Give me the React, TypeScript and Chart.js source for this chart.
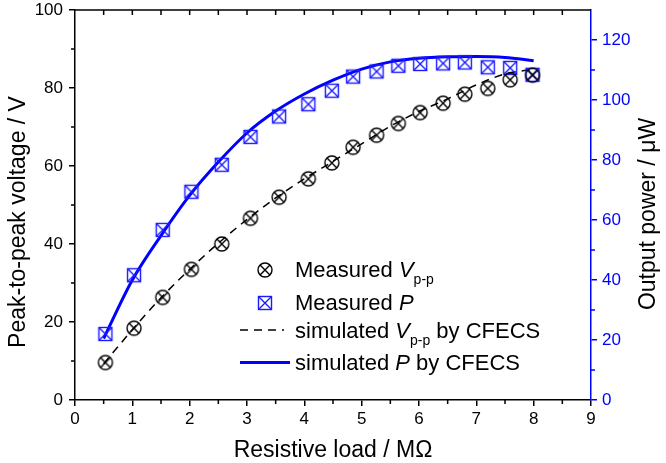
import React, { useEffect, useRef } from 'react';
import { Chart, registerables } from 'chart.js';
Chart.register(...registerables);

// ---- data ----
const measuredLoad = [0.53, 1.03, 1.53, 2.03, 2.56, 3.06, 3.56, 4.07, 4.48, 4.85, 5.26, 5.64, 6.02, 6.42, 6.8, 7.2, 7.59, 7.98];
const measuredVpp = [9.6, 18.4, 26.3, 33.5, 40.0, 46.6, 52.0, 56.7, 60.8, 64.8, 67.9, 70.9, 73.7, 76.1, 78.4, 79.9, 82.1, 83.3];
const measuredP = [22.0, 41.6, 56.7, 69.4, 78.4, 87.7, 94.5, 98.6, 103.1, 107.8, 109.5, 111.4, 112.0, 112.2, 112.5, 110.9, 110.7, 108.4];
const simLoad = [0.5, 1, 1.5, 2, 2.5, 3, 3.5, 4, 4.5, 5, 5.5, 6, 6.5, 7, 7.5, 8];
const simVpp = [9.3, 18.0, 26.2, 33.5, 40.2, 46.3, 51.8, 56.7, 61.2, 65.7, 70.2, 74.0, 77.2, 80.8, 83.6, 84.8];
const simP = [20.5, 40.0, 54.8, 68.2, 79.3, 89.0, 96.3, 102.0, 106.6, 110.3, 112.7, 113.9, 114.4, 114.5, 114.2, 113.1];
const xTicks = [0, 1, 2, 3, 4, 5, 6, 7, 8, 9];
const yTicks = [0, 20, 40, 60, 80, 100];
const y1Ticks = [0, 20, 40, 60, 80, 100, 120];

const FONT = "Arial, 'Liberation Sans', sans-serif";
const BLUE = '#0000ff';
const BLACK = '#000000';

function makeCircleX(color: string) {
  const c = document.createElement('canvas');
  c.width = 20; c.height = 20;
  const g = c.getContext('2d')!;
  g.strokeStyle = color; g.lineWidth = 1.4;
  g.beginPath(); g.arc(10, 10, 7, 0, Math.PI * 2); g.stroke();
  const d = 7 * Math.SQRT1_2;
  g.beginPath();
  g.moveTo(10 - d, 10 - d); g.lineTo(10 + d, 10 + d);
  g.moveTo(10 + d, 10 - d); g.lineTo(10 - d, 10 + d);
  g.stroke();
  return c;
}
function makeSquareX(color: string) {
  const c = document.createElement('canvas');
  c.width = 20; c.height = 20;
  const g = c.getContext('2d')!;
  g.strokeStyle = color; g.lineWidth = 1.4;
  g.strokeRect(3.5, 3.5, 13, 13);
  g.beginPath();
  g.moveTo(3.5, 3.5); g.lineTo(16.5, 16.5);
  g.moveTo(16.5, 3.5); g.lineTo(3.5, 16.5);
  g.stroke();
  return c;
}

type Part = { t: string; it?: boolean; sub?: boolean };
function drawRich(ctx: CanvasRenderingContext2D, x: number, y: number, parts: Part[], size: number) {
  let cx = x;
  for (const p of parts) {
    const s = p.sub ? Math.round(size * 0.62) : size;
    ctx.font = `${p.it ? 'italic ' : ''}${s}px ${FONT}`;
    ctx.fillText(p.t, cx, p.sub ? y + 7 : y);
    cx += ctx.measureText(p.t).width;
  }
}

export default function App() {
  const ref = useRef<HTMLCanvasElement>(null);
  useEffect(() => {
    const circ = makeCircleX(BLACK);
    const sq = makeSquareX('#1a1aff');

    const decor = {
      id: 'decor',
      afterDraw(chart: any) {
        const { ctx, chartArea: ca, scales } = chart;
        const sx = scales.x, sy = scales.y, sy1 = scales.y1;
        ctx.save();
        ctx.lineWidth = 1.5;
        // top border with inward ticks
        ctx.strokeStyle = BLACK;
        ctx.beginPath();
        ctx.moveTo(ca.left, ca.top); ctx.lineTo(ca.right, ca.top);
        for (let v = 0.5; v < 9; v += 0.5) {
          const px = sx.getPixelForValue(v);
          ctx.moveTo(px, ca.top); ctx.lineTo(px, ca.top + 5);
        }
        // bottom minor ticks
        for (let v = 0.5; v < 9; v += 1) {
          const px = sx.getPixelForValue(v);
          ctx.moveTo(px, ca.bottom); ctx.lineTo(px, ca.bottom + 4);
        }
        // left minor ticks
        for (let v = 10; v < 100; v += 20) {
          const py = sy.getPixelForValue(v);
          ctx.moveTo(ca.left, py); ctx.lineTo(ca.left - 4, py);
        }
        ctx.stroke();
        // right minor ticks
        ctx.strokeStyle = BLUE;
        ctx.beginPath();
        for (let v = 10; v < 130; v += 20) {
          const py = sy1.getPixelForValue(v);
          ctx.moveTo(ca.right, py); ctx.lineTo(ca.right + 4, py);
        }
        ctx.stroke();

        // axis titles
        ctx.fillStyle = BLACK;
        ctx.font = `23px ${FONT}`;
        ctx.textAlign = 'center';
        ctx.textBaseline = 'alphabetic';
        ctx.fillText('Resistive load / M\u03A9', (ca.left + ca.right) / 2, 457);
        ctx.save();
        ctx.translate(25, 222);
        ctx.rotate(-Math.PI / 2);
        ctx.fillText('Peak-to-peak voltage / V', 0, 0);
        ctx.restore();
        ctx.save();
        ctx.translate(655, 214);
        ctx.rotate(-Math.PI / 2);
        ctx.fillText('Output power / \u03BCW', 0, 0);
        ctx.restore();

        // legend
        ctx.textAlign = 'left';
        const tx = 295;
        ctx.drawImage(circ, 265 - 10, 270 - 10);
        ctx.drawImage(sq, 265 - 10, 303 - 10);
        ctx.strokeStyle = BLACK; ctx.lineWidth = 1.5; ctx.setLineDash([8, 6]);
        ctx.beginPath(); ctx.moveTo(240, 330); ctx.lineTo(284, 330); ctx.stroke();
        ctx.setLineDash([]);
        ctx.strokeStyle = BLUE; ctx.lineWidth = 3;
        ctx.beginPath(); ctx.moveTo(240, 362.5); ctx.lineTo(290, 362.5); ctx.stroke();
        ctx.fillStyle = BLACK;
        drawRich(ctx, tx, 277, [{ t: 'Measured ' }, { t: 'V', it: true }, { t: 'p-p', sub: true }], 22);
        drawRich(ctx, tx, 310, [{ t: 'Measured ' }, { t: 'P', it: true }], 22);
        drawRich(ctx, tx, 338, [{ t: 'simulated ' }, { t: 'V', it: true }, { t: 'p-p', sub: true }, { t: ' by CFECS' }], 22);
        drawRich(ctx, tx, 370, [{ t: 'simulated ' }, { t: 'P', it: true }, { t: ' by CFECS' }], 22);
        ctx.restore();
      },
    };

    const chart = new Chart(ref.current!, {
      type: 'line',
      data: {
        datasets: [
          {
            label: 'Measured Vp-p',
            data: measuredLoad.map((x, i) => ({ x, y: measuredVpp[i] })),
            yAxisID: 'y',
            showLine: false,
            pointStyle: circ as any,
            pointRadius: 8,
            borderColor: BLACK,
            backgroundColor: BLACK,
          },
          {
            label: 'Measured P',
            data: measuredLoad.map((x, i) => ({ x, y: measuredP[i] })),
            yAxisID: 'y1',
            showLine: false,
            pointStyle: sq as any,
            pointRadius: 8,
            borderColor: BLUE,
            backgroundColor: BLUE,
          },
          {
            label: 'simulated Vp-p by CFECS',
            data: simLoad.map((x, i) => ({ x, y: simVpp[i] })),
            yAxisID: 'y',
            borderColor: BLACK,
            borderWidth: 1.5,
            borderDash: [8, 6],
            pointRadius: 0,
            cubicInterpolationMode: 'monotone',
            fill: false,
          },
          {
            label: 'simulated P by CFECS',
            data: simLoad.map((x, i) => ({ x, y: simP[i] })),
            yAxisID: 'y1',
            borderColor: BLUE,
            borderWidth: 3,
            pointRadius: 0,
            cubicInterpolationMode: 'monotone',
            fill: false,
          },
        ],
      },
      options: {
        responsive: false,
        animation: false,
        layout: { padding: { top: 10, left: 0, right: 0, bottom: 0 } },
        plugins: { legend: { display: false }, tooltip: { enabled: false } },
        scales: {
          x: {
            type: 'linear',
            min: 0, max: 9,
            afterBuildTicks: (s: any) => { s.ticks = xTicks.map((v) => ({ value: v })); },
            afterFit: (s: any) => { s.height = 63; s.paddingLeft = 0; s.paddingRight = 0; },
            ticks: { color: BLACK, font: { size: 17, family: FONT }, padding: 3, maxRotation: 0, autoSkip: false },
            grid: { display: true, drawOnChartArea: false, drawTicks: true, tickLength: 6, color: BLACK, lineWidth: 1.5 },
            border: { display: true, color: BLACK, width: 1.5 },
          },
          y: {
            type: 'linear', position: 'left',
            min: 0, max: 100,
            afterBuildTicks: (s: any) => { s.ticks = yTicks.map((v) => ({ value: v })); },
            afterFit: (s: any) => { s.width = 75; s.paddingTop = 0; s.paddingBottom = 0; },
            ticks: { color: BLACK, font: { size: 17, family: FONT }, padding: 6 },
            grid: { display: true, drawOnChartArea: false, drawTicks: true, tickLength: 6, color: BLACK, lineWidth: 1.5 },
            border: { display: true, color: BLACK, width: 1.5 },
          },
          y1: {
            type: 'linear', position: 'right',
            min: 0, max: 130,
            afterBuildTicks: (s: any) => { s.ticks = y1Ticks.map((v) => ({ value: v })); },
            afterFit: (s: any) => { s.width = 75; s.paddingTop = 0; s.paddingBottom = 0; },
            ticks: { color: BLUE, font: { size: 17, family: FONT }, padding: 5 },
            grid: { display: true, drawOnChartArea: false, drawTicks: true, tickLength: 6, color: BLUE, lineWidth: 1.5 },
            border: { display: true, color: BLUE, width: 1.5 },
          },
        },
      } as any,
      plugins: [decor],
    });
    return () => chart.destroy();
  }, []);

  return (
    <div style={{ position: 'absolute', left: 0, top: 0, width: 666, height: 463, background: '#fff' }}>
      <canvas ref={ref} width={666} height={463} style={{ display: 'block' }} />
    </div>
  );
}
